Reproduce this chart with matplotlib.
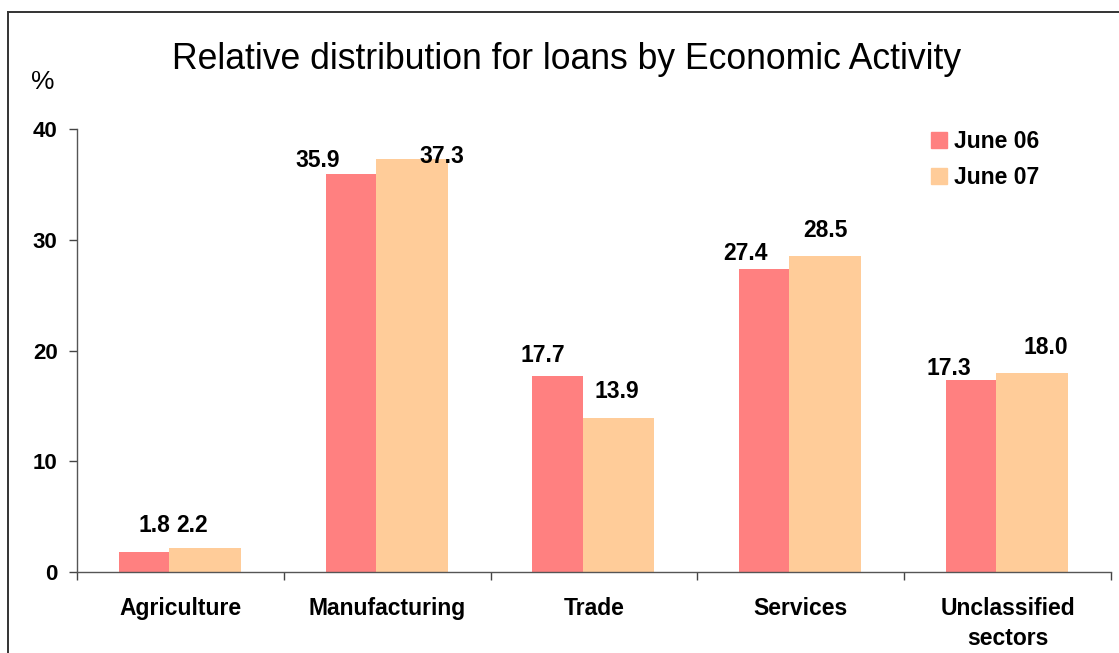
import matplotlib
matplotlib.use("Agg")
import matplotlib.pyplot as plt
import numpy as np
from matplotlib.lines import Line2D
from matplotlib.patches import Patch

plt.rcParams['font.family'] = ['Liberation Sans', 'DejaVu Sans']

sectors = ["Agriculture", "Manufacturing", "Trade", "Services", "Unclassified\nsectors"]
june06 = [1.8, 35.9, 17.7, 27.4, 17.3]
june07 = [2.2, 37.3, 13.9, 28.5, 18.0]
y_ticks = [0, 10, 20, 30, 40]

# hand-placed value label nudges (pixels from bar centre / bar top)
nudge06 = [(11, 20), (-33, 7), (-15, 14), (-19, 9), (-22, 5)]
nudge07 = [(-13, 16), (30, -4), (-2, 20), (0, 19), (14, 19)]

c06 = '#FF8080'
c07 = '#FFCC99'

W, H = 1119, 653
fig = plt.figure(figsize=(W / 100, H / 100), dpi=100)
ax = fig.add_axes([77 / W, 1 - 572 / H, 1034 / W, 443 / H])

x = np.arange(len(sectors))
b06 = ax.bar(x + 0.202, june06, width=0.243, align='edge', color=c06, linewidth=0)
b07 = ax.bar(x + 0.445, june07, width=0.347, align='edge', color=c07, linewidth=0)

for bars, vals, nudges in ((b06, june06, nudge06), (b07, june07, nudge07)):
    for bar, v, (dx, dy) in zip(bars, vals, nudges):
        xc = bar.get_x() + bar.get_width() / 2
        ax.annotate(f"{v:.1f}", xy=(xc, v), xytext=(dx, dy), textcoords='offset pixels',
                    ha='center', va='baseline', fontsize=16.5, fontweight='bold')

ax.set_xlim(0, len(sectors))
ax.set_ylim(0, 40)
ax.set_yticks(y_ticks)
ax.set_xticks(np.arange(len(sectors) + 1))
ax.set_xticklabels([])
ax.set_xticks(x + 0.5, minor=True)
ax.set_xticklabels(sectors, minor=True, fontsize=16.5, fontweight='bold', linespacing=1.4)
ax.tick_params(axis='x', which='major', length=6, width=1, color='#444444')
ax.tick_params(axis='x', which='minor', length=0, pad=18)
ax.tick_params(axis='y', length=6, width=1, color='#444444', pad=8, labelsize=16)
for lab in ax.get_yticklabels():
    lab.set_fontweight('bold')

for side in ('top', 'right'):
    ax.spines[side].set_visible(False)
for side in ('left', 'bottom'):
    ax.spines[side].set_color('#555555')
    ax.spines[side].set_linewidth(1.0)

ax.legend(handles=[Patch(color=c06, label='June 06'), Patch(color=c07, label='June 07')],
          loc='upper left', bbox_to_anchor=(910 / W, 1 - 109 / H), bbox_transform=fig.transFigure,
          frameon=False, prop={'size': 16.5, 'weight': 'bold'},
          handlelength=0.7, handleheight=0.7, handletextpad=0.3, labelspacing=0.6)

fig.text(567 / W, 1 - 69 / H, "Relative distribution for loans by Economic Activity",
         ha='center', va='baseline', fontsize=25.6)
fig.text(43 / W, 1 - 89 / H, "%", ha='center', va='baseline', fontsize=19)

# outer frame: left and top edges only
fig.add_artist(Line2D([8 / W, 8 / W], [0, 1 - 12 / H], transform=fig.transFigure,
                      color='#333333', linewidth=1.4))
fig.add_artist(Line2D([8 / W, 1], [1 - 12 / H, 1 - 12 / H], transform=fig.transFigure,
                      color='#333333', linewidth=1.4))

fig.savefig("out.png", dpi=100)
